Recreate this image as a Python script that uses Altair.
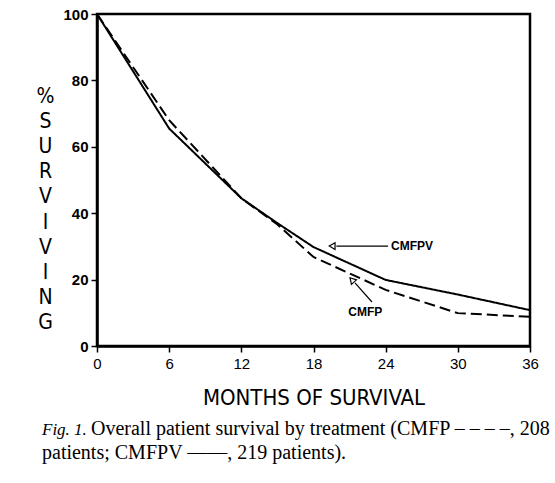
import altair as alt
import pandas as pd

months = [0, 6, 12, 15, 18, 24, 30, 36]
cmfpv = [100, 65.5, 44.5, 37.0, 29.8, 19.9, 15.5, 10.8]
cmfp = [100, 68.0, 44.5, 36.6, 26.8, 16.9, 9.9, 8.8]

x_ticks = [0, 6, 12, 18, 24, 30, 36]
y_ticks = [0, 20, 40, 60, 80, 100]

y_title = ["%", "S", "U", "R", "V", "I", "V", "I", "N", "G"]
x_title = "MONTHS OF SURVIVAL"

ann_text = ["CMFPV", "CMFP"]
ann_tx = [24.45, 22.3]
ann_ty = [30.1, 10.2]

arrow_x1 = [19.9, 22.86]
arrow_y1 = [30.1, 13.25]
arrow_x2 = [24.2, 21.45]
arrow_y2 = [30.1, 19.0]
head_x = [19.55, 21.2]
head_y = [30.1, 19.9]
head_angle = [270, 318]

caption_fig = "Fig. 1."
caption_1 = "Overall patient survival by treatment (CMFP – – – –, 208"
caption_2 = "patients; CMFPV ——, 219 patients)."

rows = []
for m, a, b in zip(months, cmfpv, cmfp):
    rows.append({"month": m, "pct": a, "treatment": "CMFPV"})
    rows.append({"month": m, "pct": b, "treatment": "CMFP"})
df = pd.DataFrame(rows)

W, H = 433, 332
LBL = "Liberation Sans Narrow, DejaVu Sans Condensed, Liberation Sans"

xs = alt.Scale(domain=[0, 36], nice=False, zero=False)
ys = alt.Scale(domain=[0, 100], nice=False)

base = alt.Chart(df)

lines = base.mark_line(color="black", strokeWidth=2).encode(
    x=alt.X("month:Q", scale=xs,
            axis=alt.Axis(values=x_ticks, title=x_title, grid=False,
                          domainColor="black", domainWidth=2.5, tickColor="black",
                          tickWidth=1.5, tickSize=6, labelPadding=4,
                          labelFont="Liberation Sans", labelFontSize=15,
                          labelColor="black", labelFlush=False,
                          titleFont=LBL, titleFontSize=22, titleFontWeight="normal",
                          titleColor="black", titleBaseline="alphabetic", titleY=58)),
    y=alt.Y("pct:Q", scale=ys,
            axis=alt.Axis(values=y_ticks, title=y_title, grid=False,
                          domainColor="black", domainWidth=2.5, tickColor="black",
                          tickWidth=1.5, tickSize=6, labelPadding=3,
                          labelFont="Liberation Sans", labelFontSize=15,
                          labelFontWeight="bold", labelColor="black",
                          labelFlush=False,
                          titleFont=LBL, titleFontSize=21, titleFontWeight="normal",
                          titleColor="black", titleAngle=0, titleAlign="center",
                          titleBaseline="top", titleLineHeight=25.2,
                          titleX=-52, titleY=71)),
    strokeDash=alt.StrokeDash("treatment:N",
                              scale=alt.Scale(domain=["CMFPV", "CMFP"],
                                              range=[[1, 0], [11, 5]]),
                              legend=None),
)

ann_df = pd.DataFrame({"text": ann_text, "x": ann_tx, "y": ann_ty})
ann_left = alt.Chart(ann_df.iloc[[0]]).mark_text(
    align="left", baseline="middle", font="Liberation Sans", fontSize=12,
    fontWeight="bold", color="black").encode(
    x=alt.X("x:Q", scale=xs), y=alt.Y("y:Q", scale=ys), text="text:N")
ann_center = alt.Chart(ann_df.iloc[[1]]).mark_text(
    align="center", baseline="middle", font="Liberation Sans", fontSize=12,
    fontWeight="bold", color="black").encode(
    x=alt.X("x:Q", scale=xs), y=alt.Y("y:Q", scale=ys), text="text:N")

arr_df = pd.DataFrame({"x1": arrow_x1, "y1": arrow_y1, "x2": arrow_x2, "y2": arrow_y2})
arrows = alt.Chart(arr_df).mark_rule(color="black", strokeWidth=1.2).encode(
    x=alt.X("x1:Q", scale=xs), y=alt.Y("y1:Q", scale=ys),
    x2="x2:Q", y2="y2:Q")

head_df = pd.DataFrame({"x": head_x, "y": head_y, "a": head_angle})
heads = alt.Chart(head_df).mark_point(
    shape="triangle-up", filled=False, color="black", size=45, strokeWidth=1.2,
    opacity=1).encode(
    x=alt.X("x:Q", scale=xs), y=alt.Y("y:Q", scale=ys),
    angle=alt.Angle("a:Q", scale=None))

cap_df = pd.DataFrame({"t": [0]})
cap_fig = alt.Chart(cap_df).mark_text(
    align="left", baseline="alphabetic", font="Liberation Serif", fontSize=17,
    fontStyle="italic", color="black", text=caption_fig).encode(
    x=alt.value(42 - 97), y=alt.value(435 - 14))
cap_l1 = alt.Chart(cap_df).mark_text(
    align="left", baseline="alphabetic", font="Liberation Serif", fontSize=20,
    color="black", text=caption_1).encode(
    x=alt.value(91 - 97), y=alt.value(435 - 14))
cap_l2 = alt.Chart(cap_df).mark_text(
    align="left", baseline="alphabetic", font="Liberation Serif", fontSize=20,
    color="black", text=caption_2).encode(
    x=alt.value(42 - 97), y=alt.value(459 - 14))

chart = alt.layer(lines, arrows, heads, ann_left, ann_center,
                  cap_fig, cap_l1, cap_l2).properties(
    width=W, height=H,
    autosize=alt.AutoSizeParams(type="none"),
    padding={"left": 97, "top": 14, "right": 25, "bottom": 137},
    background="white",
).configure_view(stroke="black", strokeWidth=2.5)

chart.save("out.html", embed_options={"renderer": "svg", "actions": False})
